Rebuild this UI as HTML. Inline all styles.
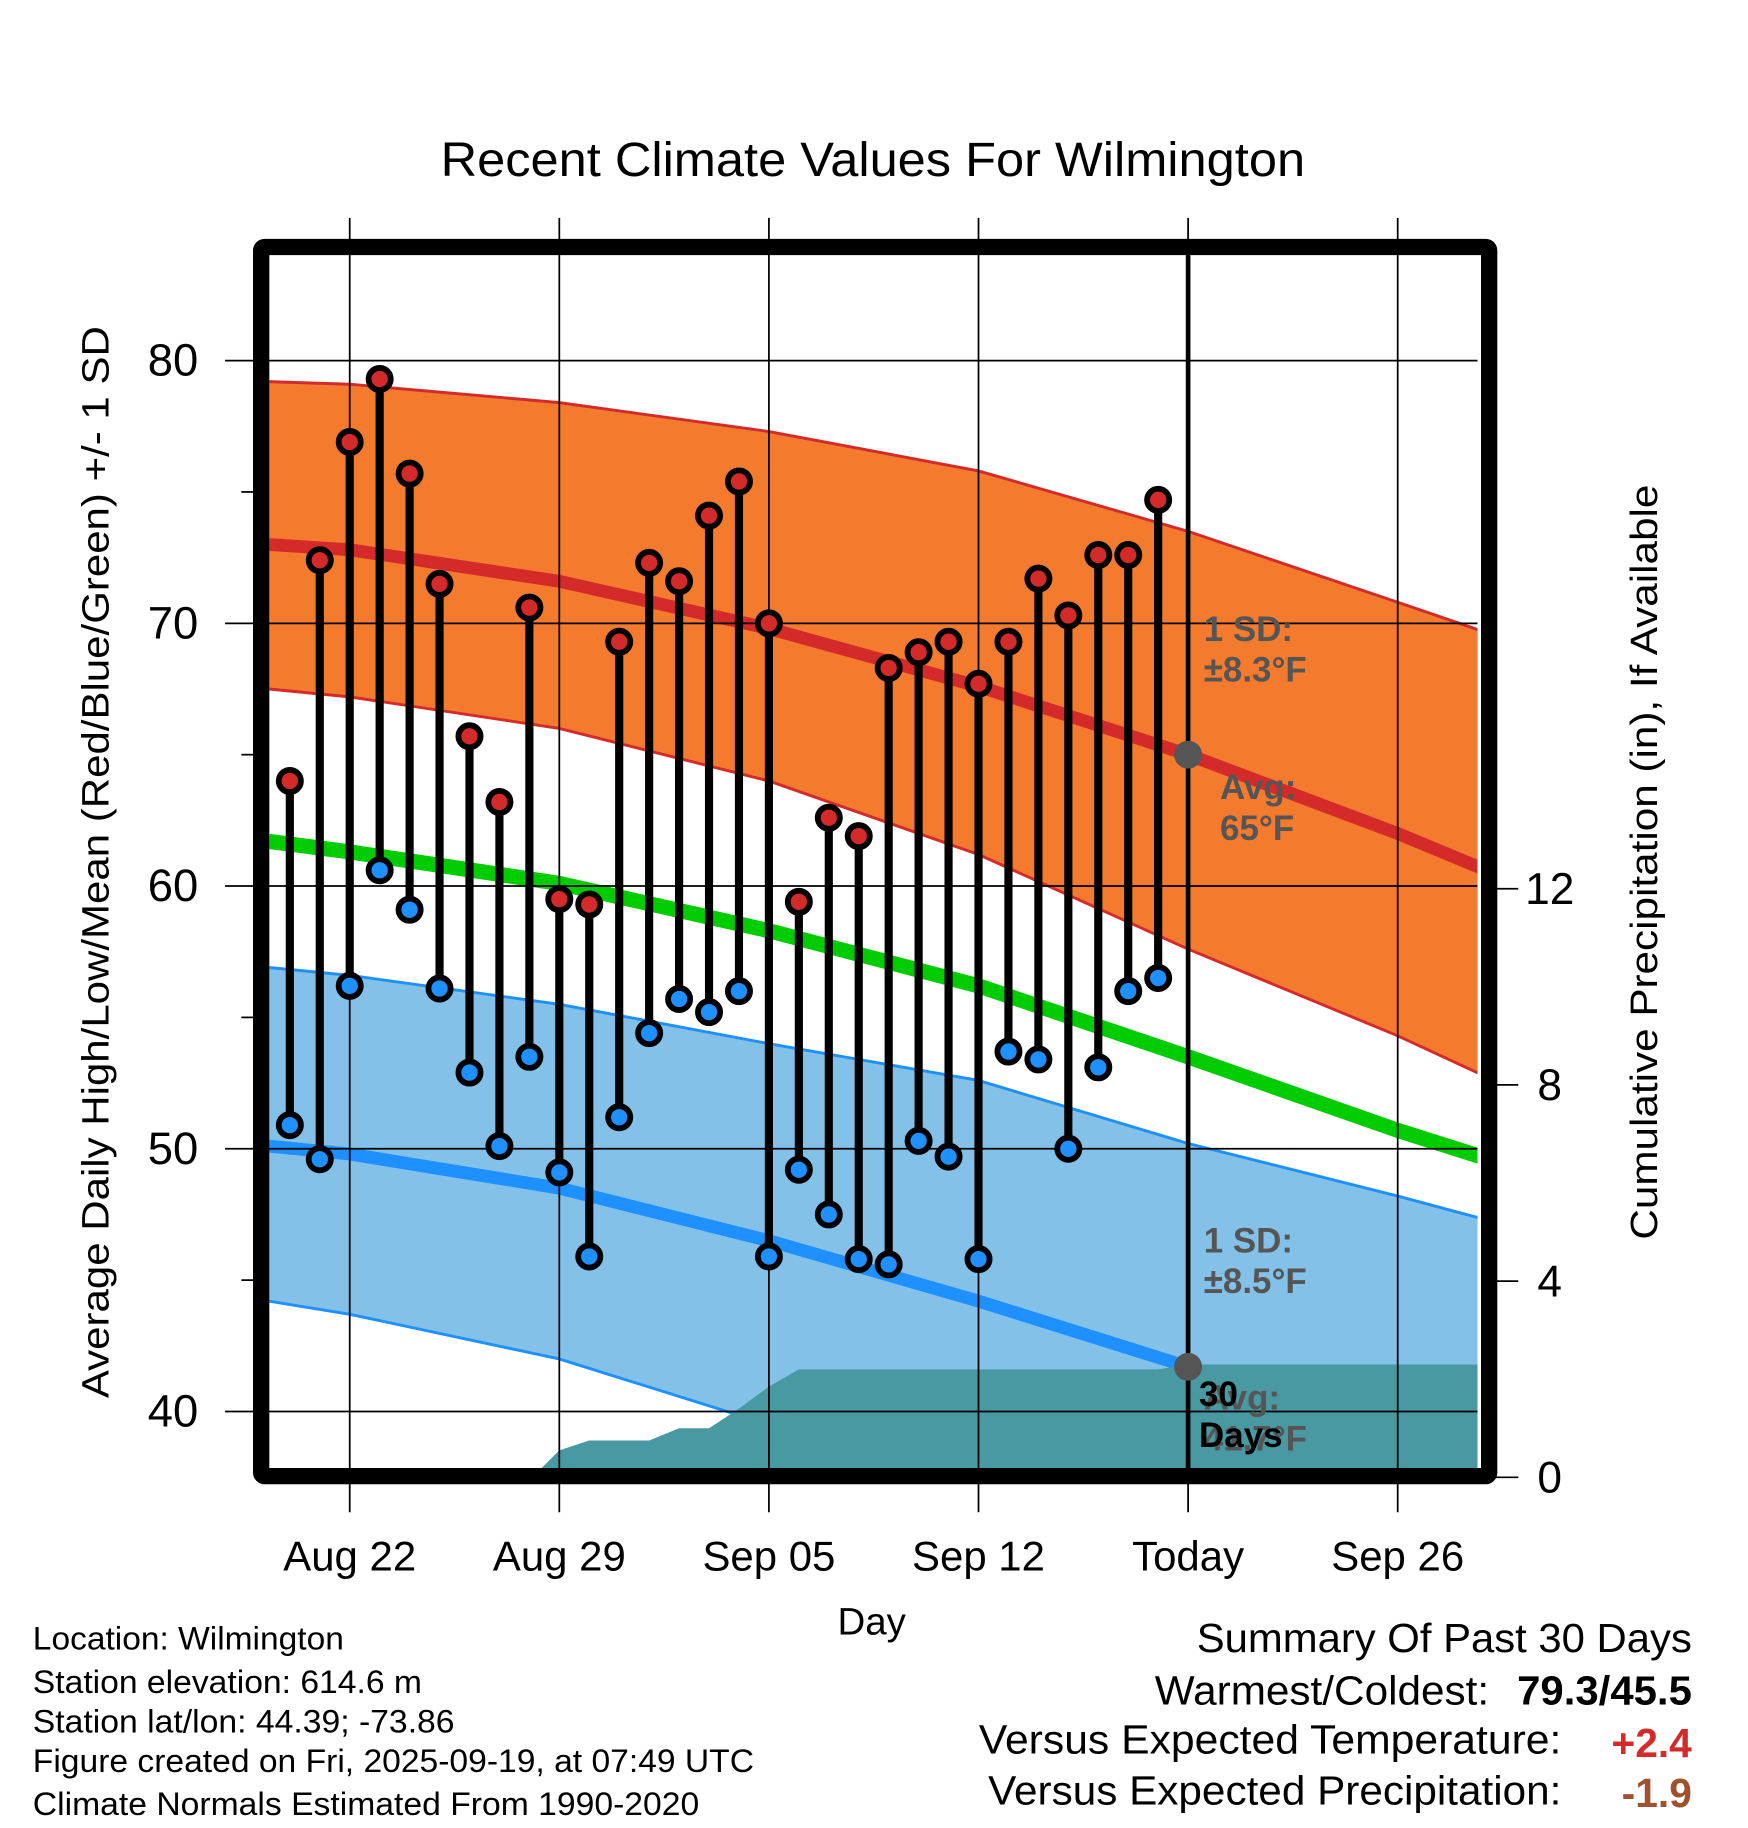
<!DOCTYPE html>
<html><head><meta charset="utf-8"><style>
html,body{margin:0;padding:0;background:#fff}
svg{display:block}
text{font-family:"Liberation Sans",Arial,sans-serif}
</style></head><body>
<svg id="chart" width="1748" height="1828" viewBox="0 0 1500 1569" xmlns="http://www.w3.org/2000/svg">
<text x="749" y="151" font-size="41" text-anchor="middle" textLength="742" lengthAdjust="spacingAndGlyphs">Recent Climate Values For Wilmington</text>
<g id="plot"></g>
<g id="labels">
<text transform="translate(93,740) rotate(-90)" font-size="33" text-anchor="middle" textLength="920" lengthAdjust="spacingAndGlyphs">Average Daily High/Low/Mean (Red/Blue/Green) +/- 1 SD</text>
<text transform="translate(1422,740) rotate(-90)" font-size="33" text-anchor="middle" textLength="648" lengthAdjust="spacingAndGlyphs">Cumulative Precipitation (in), If Available</text>
<text x="748" y="1403" font-size="33" text-anchor="middle">Day</text>
<g font-size="28">
<text x="28" y="1416" textLength="267" lengthAdjust="spacingAndGlyphs">Location: Wilmington</text>
<text x="28" y="1453" textLength="334" lengthAdjust="spacingAndGlyphs">Station elevation: 614.6 m</text>
<text x="28" y="1487" textLength="362" lengthAdjust="spacingAndGlyphs">Station lat/lon: 44.39; -73.86</text>
<text x="28" y="1521" textLength="619" lengthAdjust="spacingAndGlyphs">Figure created on Fri, 2025-09-19, at 07:49 UTC</text>
<text x="28" y="1558" textLength="572" lengthAdjust="spacingAndGlyphs">Climate Normals Estimated From 1990-2020</text>
</g>
<g font-size="35" text-anchor="end">
<text x="1452" y="1418" textLength="425" lengthAdjust="spacingAndGlyphs">Summary Of Past 30 Days</text>
<text x="1278" y="1463" textLength="287" lengthAdjust="spacingAndGlyphs">Warmest/Coldest:</text>
<text x="1452" y="1463" font-weight="bold" textLength="150" lengthAdjust="spacingAndGlyphs">79.3/45.5</text>
<text x="1340" y="1505" textLength="500" lengthAdjust="spacingAndGlyphs">Versus Expected Temperature:</text>
<text x="1452" y="1508" font-weight="bold" fill="#d42a2a">+2.4</text>
<text x="1340" y="1549" textLength="492" lengthAdjust="spacingAndGlyphs">Versus Expected Precipitation:</text>
<text x="1452" y="1551" font-weight="bold" fill="#a0522d">-1.9</text>
</g>
</g>
</svg>
<script>
// day offsets relative to Aug 22 (0)
const normDays=[-2.7,0,7,14,21,28,35,38.6];
const highAvg=[73.0,72.8,71.6,69.8,67.6,65.0,62.0,60.3];
const highUp=[79.2,79.1,78.4,77.3,75.8,73.5,70.8,69.4];
const highLo=[67.5,67.2,66.0,64.0,61.2,57.6,54.3,52.4];
const meanAvg=[61.7,61.3,60.1,58.3,56.2,53.5,50.7,49.4];
const lowAvg=[50.1,49.8,48.5,46.5,44.2,41.7,39.0,38.0];
const lowUp=[56.9,56.6,55.5,54.0,52.6,50.2,48.2,47.1];
const lowLo=[44.2,43.7,42.0,39.5,37.5,35.2,33.0,32.0];
const highs=[64.0,72.4,76.9,79.3,75.7,71.5,65.7,63.2,70.6,59.5,59.3,69.3,72.3,71.6,74.1,75.4,70.0,59.4,62.6,61.9,68.3,68.9,69.3,67.7,69.3,71.7,70.3,72.6,72.6,74.7];
const lows=[50.9,49.6,56.2,60.6,59.1,56.1,52.9,50.1,53.5,49.1,45.9,51.2,54.4,55.7,55.2,56.0,45.9,49.2,47.5,45.8,45.6,50.3,49.7,45.8,53.7,53.4,50.0,53.1,56.0,56.5];
const precipDays=[6.1,7,8,9,10,11,12,13,14,15,16,27,28,38.6];
const precip=[0,0.55,0.75,0.75,0.75,1.0,1.0,1.4,1.85,2.2,2.2,2.2,2.3,2.3];
const xTickDays=[0,7,14,21,28,35];
const xTickLabels=['Aug 22','Aug 29','Sep 05','Sep 12','Today','Sep 26'];
const yTicks=[40,50,60,70,80];
const yMinor=[45,55,65,75];
const y2Ticks=[0,4,8,12];

const L=231,R=1268,T=219,B=1260;
const X=d=>300+d*25.7;
const Y=v=>986-(v-50)*22.55;
const Y2=p=>1268-p*42.1;
const NS='http://www.w3.org/2000/svg';
const plot=document.getElementById('plot');
function mk(tag,attrs,parent){const e=document.createElementNS(NS,tag);for(const k in attrs)e.setAttribute(k,attrs[k]);(parent||plot).appendChild(e);return e;}
const defs=mk('defs',{});
const cp=mk('clipPath',{id:'clip'},defs);mk('rect',{x:L,y:T,width:R-L,height:B-T},cp);
const g=mk('g',{'clip-path':'url(#clip)'});
function line(arr){return normDays.map((d,i)=>X(d)+','+Y(arr[i])).join(' ');}
function band(up,lo){return line(up)+' '+normDays.slice().reverse().map((d,j)=>{const i=normDays.length-1-j;return X(d)+','+Y(lo[i]);}).join(' ');}
let e;
e=mk('polygon',{points:band(highUp,highLo),fill:'#f47a2e'},g);

e=mk('polyline',{points:line(highUp),fill:'none',stroke:'#d42a2a','stroke-width':2.5},g);

e=mk('polyline',{points:line(highLo),fill:'none',stroke:'#d42a2a','stroke-width':2.5},g);

e=mk('polygon',{points:band(lowUp,lowLo),fill:'#83c1e8'},g);

e=mk('polyline',{points:line(lowUp),fill:'none',stroke:'#1e90ff','stroke-width':2.5},g);

e=mk('polyline',{points:line(lowLo),fill:'none',stroke:'#1e90ff','stroke-width':2.5},g);

e=mk('polyline',{points:line(highAvg),fill:'none',stroke:'#d42a2a','stroke-width':11},g);

e=mk('polyline',{points:line(meanAvg),fill:'none',stroke:'#00cc00','stroke-width':13},g);

e=mk('polyline',{points:line(lowAvg),fill:'none',stroke:'#1e90ff','stroke-width':11},g);

const pp=precipDays.map((d,i)=>X(d)+','+Y2(precip[i])).join(' ')+' '+X(precipDays[precipDays.length-1])+','+(B+5)+' '+X(precipDays[0])+','+(B+5);
e=mk('polygon',{points:pp,fill:'#4899a2'},g);

// grid
xTickDays.forEach((d,i)=>{
  e=mk('line',{x1:X(d),x2:X(d),y1:187,y2:1298,stroke:'#000','stroke-width':1.5});
  
  e=mk('text',{x:X(d),y:1348,'font-size':36,'text-anchor':'middle'});e.textContent=xTickLabels[i];
  
});
yTicks.forEach(v=>{
  e=mk('line',{x1:193,x2:R,y1:Y(v),y2:Y(v),stroke:'#000','stroke-width':1.5});
  
  e=mk('text',{x:170,y:Y(v)+13,'font-size':39,'text-anchor':'end'});e.textContent=v;
  
});
yMinor.forEach(v=>{
  e=mk('line',{x1:207,x2:220,y1:Y(v),y2:Y(v),stroke:'#000','stroke-width':1.5});
  
});
y2Ticks.forEach(p=>{
  e=mk('line',{x1:1280,x2:1303,y1:Y2(p),y2:Y2(p),stroke:'#000','stroke-width':1.5});
  
  e=mk('text',{x:1330,y:Y2(p)+13,'font-size':38,'text-anchor':'middle'});e.textContent=p;
  
});
e=mk('line',{x1:X(28),x2:X(28),y1:T,y2:B,stroke:'#000','stroke-width':4});

// stems and dots
highs.forEach((h,i)=>{
  const x=X(i-2);
  e=mk('line',{x1:x,x2:x,y1:Y(h),y2:Y(lows[i]),stroke:'#000','stroke-width':7});
  
});
highs.forEach((h,i)=>{
  const x=X(i-2);
  e=mk('circle',{cx:x,cy:Y(h),r:9.5,fill:'#d42a2a',stroke:'#000','stroke-width':5});
  
  e=mk('circle',{cx:x,cy:Y(lows[i]),r:9.5,fill:'#1e90ff',stroke:'#000','stroke-width':5});
  
});
const ti=5;
e=mk('circle',{cx:X(28),cy:Y(highAvg[ti]),r:12,fill:'#555'});

e=mk('circle',{cx:X(28),cy:Y(lowAvg[ti]),r:12,fill:'#555'});

function lbl(name,x,y,lines,fill){const t=mk('text',{x:x,y:y,'font-size':30,'font-weight':'bold',fill:fill});
  
  lines.forEach((s,i)=>{const ts=mk('tspan',{x:x,dy:i?35:0},t);ts.textContent=s;});}
lbl('high-sd-label',1033,550,['1 SD:','\u00b18.3\u00b0F'],'#555');
lbl('high-avg-label',1047,686,['Avg:','65\u00b0F'],'#555');
lbl('low-sd-label',1033,1075,['1 SD:','\u00b18.5\u00b0F'],'#555');
lbl('low-avg-label',1033,1210,['Avg:','41.7\u00b0F'],'#555');
lbl('precip-30-days-label',1029,1207,['30','Days'],'#000');
e=mk('rect',{x:224,y:212,width:1054,height:1055,fill:'none',stroke:'#000','stroke-width':14,rx:3});

</script>
</body></html>
